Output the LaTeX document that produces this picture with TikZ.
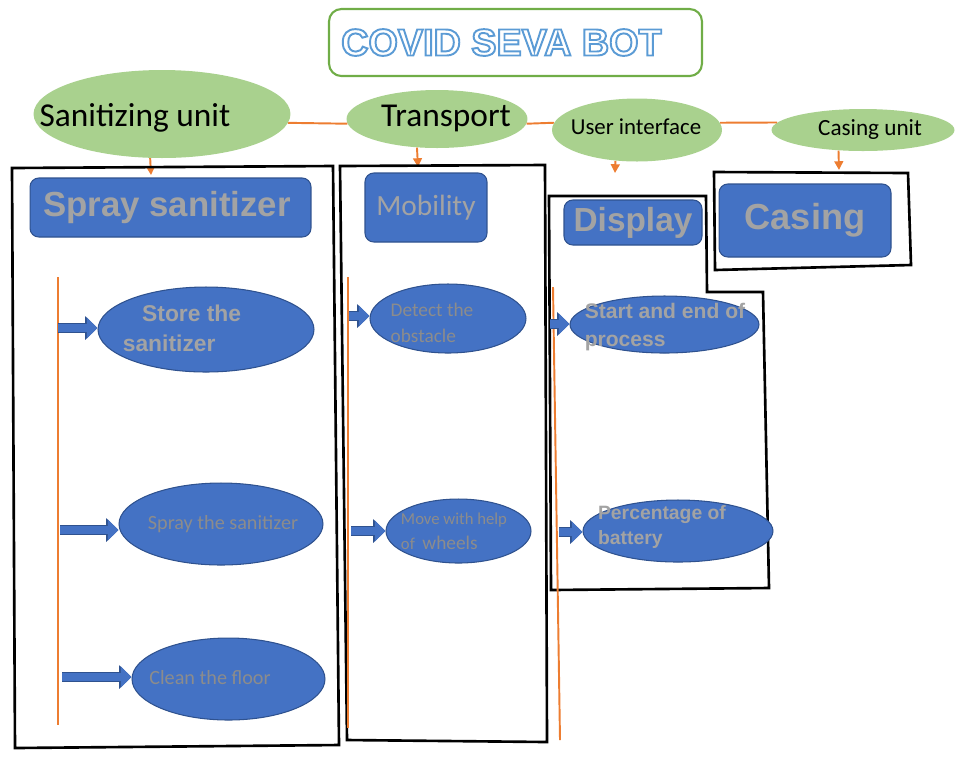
\documentclass[tikz,border=0pt]{standalone}
\usepackage{fontspec}
\setmainfont{Carlito}
\newfontfamily\arialfont{Liberation Sans}
\usetikzlibrary{shapes.geometric, positioning, calc, arrows.meta}
\definecolor{unitgreen}{HTML}{A9D18E}
\definecolor{titlegreen}{HTML}{70AD47}
\definecolor{linkorange}{HTML}{ED7D31}
\definecolor{boxblue}{HTML}{4472C4}
\definecolor{boxedge}{HTML}{2F528F}
\definecolor{titleblue}{HTML}{5B9BD5}
\definecolor{headgray}{HTML}{A3A3A3}
\definecolor{notegray}{HTML}{8C8C8C}
% outlined letters for the title
\newcommand{\hollowtext}[1]{\special{pdf:code 1 Tr 1.1 w}#1\special{pdf:code 0 Tr}}

\begin{document}
\begin{tikzpicture}[x=0.02cm, y=-0.02cm,
    unit/.style={ellipse, fill=unitgreen, inner sep=0pt},
    task/.style={ellipse, draw=boxedge, fill=boxblue, line width=0.6pt, inner sep=0pt},
    head/.style={rectangle, rounded corners=5pt, draw=boxedge, fill=boxblue, line width=0.6pt, inner sep=0pt, text=headgray},
    unittxt/.style={inner sep=0pt, text=black},
    tasktxt/.style={inner sep=0pt, align=left, text=notegray},
    link/.style={draw=linkorange, line width=1.1pt},
    down/.style={link, -{Triangle[length=5pt,width=5pt]}},
    frame/.style={draw=black, line width=1.5pt, line join=miter},
    push/.style={draw=boxblue, line width=4.6pt, -{Triangle[length=6pt,width=11.5pt]},
        preaction={draw=boxedge, line width=5.6pt, -{Triangle[length=7pt,width=13pt]}}}]
\useasboundingbox (0,0) rectangle (979,769);

% title
\node[draw=titlegreen, line width=1.2pt, rounded corners=7pt, minimum width=7.46cm, minimum height=1.34cm, inner sep=0pt,
    text=titleblue, font=\arialfont\bfseries\fontsize{21.5}{24}\selectfont] (title) at (515.5,42.5)
    {\hollowtext{COVID SEVA BOT}\hspace*{16pt}};

% the four units
\node[unit, minimum width=5.14cm, minimum height=1.76cm] (san) at (162,114) {};
\node[unittxt, font=\fontsize{19}{22}\selectfont] (santxt) at (135,118) {Sanitizing unit};
\node[unit, minimum width=3.62cm, minimum height=1.16cm] (trans) at (437,119) {};
\node[unittxt, font=\fontsize{19}{22}\selectfont] (transtxt) at (446,118) {Transport};
\node[unit, minimum width=3.4cm, minimum height=1.26cm] (ui) at (637,130) {};
\node[unittxt, font=\fontsize{13}{16}\selectfont] (uitxt) at (636,127) {User interface};
\node[unit, minimum width=3.66cm, minimum height=0.84cm] (cas) at (863,130) {};
\node[unittxt, font=\fontsize{13.2}{16}\selectfont] (castxt) at (870,130) {Casing unit};

\draw[link] (san.-4) -- (trans.183);
\draw[link] (trans.-3) -- (ui.175);
\draw[link] (ui.5) -- (cas.175);

\coordinate (sanend) at (151,175);
\coordinate (transend) at (418,167);
\coordinate (uiend) at (615,173);
\coordinate (casend) at (839,170);
\draw[down] (san.255) -- (sanend);
\draw[down] (trans.235) -- (transend);
\draw[down] (ui.235) -- (uiend);
\draw[down] (cas.220) -- (casend);

% frames
\draw[frame] (12,168) -- (333,166) -- (339,745) -- (15,748) -- cycle;
\draw[frame] (340,166) -- (545,165) -- (547,742) -- (347,740) -- cycle;
\draw[frame] (549,196) -- (706,196) -- (707,292) -- (763,292) -- (769,588) -- (551,590) -- cycle;
\draw[frame] (714,172) -- (908,173) -- (911,265) -- (715,270) -- cycle;

% orange rails
\draw[link] (58,277) -- (58,725);
\draw[link] (348,277) -- (348,728);
\draw[link] (553,287) -- (560,740);

% headings
\node[head, minimum width=5.62cm, minimum height=1.18cm, font=\arialfont\bfseries\fontsize{19.8}{22}\selectfont] (spray) at (170.5,207.5) {Spray sanitizer\hspace*{4pt}};
\node[head, minimum width=2.44cm, minimum height=1.38cm, font=\fontsize{16.7}{20}\selectfont] (mob) at (426,207.5) {Mobility};
\node[head, minimum width=2.76cm, minimum height=0.9cm, font=\arialfont\bfseries\fontsize{19}{22}\selectfont] (disp) at (633,222.5) {Display};
\node[head, minimum width=3.44cm, minimum height=1.46cm, font=\arialfont\bfseries\fontsize{20.6}{24}\selectfont] (casing) at (805,220.5) {Casing};

% tasks
\node[task, minimum width=4.32cm, minimum height=1.7cm] (store) at (206,329.5) {};
\node[tasktxt, text=headgray, font=\arialfont\bfseries\fontsize{13}{17}\selectfont] (storetxt) at (182,328) {\hspace*{11pt}Store the\\sanitizer};
\node[task, minimum width=4.08cm, minimum height=1.64cm] (spraye) at (221,524) {};
\node[tasktxt, font=\fontsize{11.5}{14}\selectfont] (spraytxt) at (223,524) {Spray the sanitizer};
\node[task, minimum width=3.86cm, minimum height=1.64cm] (clean) at (228.5,679) {};
\node[tasktxt, font=\fontsize{11.5}{14}\selectfont] (cleantxt) at (210,678) {Clean the floor};

\node[task, minimum width=3.12cm, minimum height=1.38cm] (detect) at (448,318.5) {};
\node[tasktxt, font=\fontsize{11}{14.7}\selectfont] (detecttxt) at (432,322.5) {Detect the\\obstacle};
\node[task, minimum width=2.9cm, minimum height=1.28cm] (move) at (458.5,531) {};
\node[tasktxt, font=\fontsize{9.5}{14}\selectfont] (movetxt) at (454,531) {Move with help\\of~~{\fontsize{11}{14}\selectfont wheels}};

\node[task, minimum width=3.78cm, minimum height=1.14cm] (start) at (664.5,324.5) {};
\node[tasktxt, text=headgray, font=\arialfont\bfseries\fontsize{12}{16}\selectfont] (starttxt) at (665,327) {Start and end of\\process};
\node[task, minimum width=3.8cm, minimum height=1.24cm] (perc) at (678,531) {};
\node[tasktxt, text=headgray, font=\arialfont\bfseries\fontsize{11}{14}\selectfont] (perctxt) at (662,527) {Percentage of\\battery};

% block arrows from the rails
\coordinate (p1) at (58,328);
\coordinate (p2) at (60,530);
\coordinate (p3) at (62,677);
\coordinate (q1) at (349,316);
\coordinate (q2) at (351,531);
\coordinate (r1) at (550,324);
\coordinate (r2) at (559,532);
\draw[push] (p1) -- (p1 -| store.west);
\draw[push] (p2) -- (p2 -| spraye.west);
\draw[push] (p3) -- (p3 -| clean.west);
\draw[push] (q1) -- (q1 -| detect.west);
\draw[push] (q2) -- (q2 -| move.west);
\draw[push] (r1) -- (r1 -| start.west);
\draw[push] (r2) -- (r2 -| perc.west);
\end{tikzpicture}
\end{document}
